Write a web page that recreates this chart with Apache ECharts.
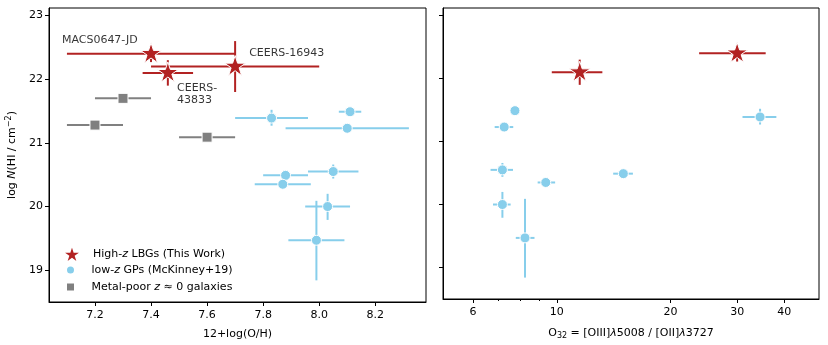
<!DOCTYPE html>
<html>
<head>
<meta charset="utf-8">
<script src="https://cdn.jsdelivr.net/npm/echarts@6/dist/echarts.min.js"></script>
<style>
    html, body { margin: 0; padding: 0; background: #fff; }
    #chart { width: 828px; height: 345px; }
</style>
</head>
<body>
<div id="chart"></div>
<script>
// high-z LBGs (this work)
const lbgNames = ['MACS0647-JD', 'CEERS-43833', 'CEERS-16943'];
const lbgOH = [7.40, 7.46, 7.70];
const lbgOHLo = [7.10, 7.37, 7.40];
const lbgOHHi = [7.70, 7.55, 8.00];
const lbgNHI = [22.40, 22.10, 22.20];
const lbgNHILo = [22.27, 21.90, 21.80];
const lbgNHIHi = [22.52, 22.30, 22.60];
const lbgO32 = [30.0, 11.5, null];
const lbgO32Lo = [23.8, 9.7, null];
const lbgO32Hi = [35.7, 13.2, null];

// low-z green peas (McKinney+19)
const gpOH = [7.83, 8.11, 8.10, 7.88, 8.05, 7.87, 8.03, 7.99];
const gpOHLo = [7.70, 8.07, 7.88, 7.80, 7.96, 7.77, 7.95, 7.89];
const gpOHHi = [7.96, 8.15, 8.32, 7.96, 8.14, 7.97, 8.11, 8.09];
const gpNHI = [21.39, 21.49, 21.23, 20.49, 20.55, 20.35, 20.00, 19.47];
const gpNHILo = [21.27, 21.44, 21.23, 20.49, 20.44, 20.35, 19.79, 18.84];
const gpNHIHi = [21.52, 21.54, 21.23, 20.49, 20.66, 20.35, 20.20, 20.09];
const gpO32 = [34.5, 7.75, 7.26, 15.0, 7.18, 9.35, 7.18, 8.24];
const gpO32Lo = [31.0, 7.75, 6.85, 14.1, 6.68, 8.90, 6.78, 7.79];
const gpO32Hi = [38.1, 7.75, 7.67, 15.9, 7.66, 9.90, 7.55, 8.73];

// metal-poor z~0 galaxies
const mpOH = [7.30, 7.20, 7.60];
const mpOHLo = [7.20, 7.10, 7.50];
const mpOHHi = [7.40, 7.30, 7.70];
const mpNHI = [21.70, 21.28, 21.09];
const mpNHILo = [21.64, 21.22, 21.03];
const mpNHIHi = [21.76, 21.34, 21.15];

// annotations (data coordinates, left panel)
const annoText = ['MACS0647-JD', 'CEERS-16943', 'CEERS-\n43833'];
const annoOH = [7.082, 7.75, 7.493];
const annoNHI = [22.61, 22.41, 21.76];

// ticks
const ohTicks = [7.2, 7.4, 7.6, 7.8, 8.0, 8.2];
const nhiTicks = [19, 20, 21, 22, 23];
const o32Ticks = [6, 10, 20, 30, 40];
const o32MinorTicks = [7, 8, 9];

const RED = '#b22222';
const BLUE = '#87ceeb';
const GRAY = '#808080';
const FONT = 'DejaVu Sans';
const STAR_BODY = 'M100,0L122.45,69.1L195.1,69.1L136.3,111.8L158.8,180.9L100,138.2L41.2,180.9L63.7,111.8L4.9,69.1L77.55,69.1Z';
// 五角星, 包围盒上下对称
const STAR = 'path://M100,200' + STAR_BODY;

function rows(x, y, xlo, xhi, ylo, yhi) {
    const out = [];
    x.forEach((v, i) => {
        if (v == null) return;
        out.push([v, y[i], xlo[i], xhi[i], ylo[i], yhi[i]]);
    });
    return out;
}

// 误差棒
function errorBars(color) {
    return function (params, api) {
        const l = api.coord([api.value(2), api.value(1)]);
        const r = api.coord([api.value(3), api.value(1)]);
        const b = api.coord([api.value(0), api.value(4)]);
        const t = api.coord([api.value(0), api.value(5)]);
        const style = { stroke: color, lineWidth: 2 };
        return {
            type: 'group',
            children: [
                { type: 'line', shape: { x1: l[0], y1: l[1], x2: r[0], y2: r[1] }, style },
                { type: 'line', shape: { x1: b[0], y1: b[1], x2: t[0], y2: t[1] }, style },
            ],
        };
    };
}

const lbgLeft = rows(lbgOH, lbgNHI, lbgOHLo, lbgOHHi, lbgNHILo, lbgNHIHi);
const gpLeft = rows(gpOH, gpNHI, gpOHLo, gpOHHi, gpNHILo, gpNHIHi);
const mpLeft = rows(mpOH, mpNHI, mpOHLo, mpOHHi, mpNHILo, mpNHIHi);
const lbgRight = rows(lbgO32, lbgNHI, lbgO32Lo, lbgO32Hi, lbgNHILo, lbgNHIHi);
const gpRight = rows(gpO32, gpNHI, gpO32Lo, gpO32Hi, gpNHILo, gpNHIHi);

const textBase = { fontFamily: FONT, fontSize: 11, color: '#000' };
const axisLine = { show: true, lineStyle: { color: '#000', width: 1 } };
const axisTick = { show: true, length: 4, lineStyle: { color: '#000', width: 1 } };

const legendText = {
    lbg: '{t|High-}{i|z}{t| LBGs (This Work)}',
    gp: '{t|low-}{i|z}{t| GPs (McKinney+19)}',
    mp: '{t|Metal-poor }{i|z}{t| ≈ 0 galaxies}',
};
const legendItems = [
    { name: 'lbg', icon: 'path://' + STAR_BODY },
    { name: 'gp', icon: 'path://M0,0M17,17M4,8.5A4.5,4.5,0,1,1,13,8.5A4.5,4.5,0,1,1,4,8.5Z' },
    { name: 'mp', icon: 'path://M0,0M17,17M4,4L13,4L13,13L4,13Z' },
];
const legendTops = [243.5, 260.5, 277.5];
const legendIconH = [19, 17, 17];

const myChart = echarts.init(document.getElementById('chart'), null, { renderer: 'canvas' });

const option = {
    animation: false,
    backgroundColor: '#fff',
    textStyle: { fontFamily: FONT },
    grid: [
        { left: 49, top: 8, width: 377, height: 294, show: true, borderColor: '#000', borderWidth: 1 },
        { left: 443, top: 8, width: 376, height: 294, show: true, borderColor: '#000', borderWidth: 1 },
    ],
    // 每个图例单独放置, 行距与原图一致
    legend: legendItems.map((item, i) => ({
        orient: 'vertical',
        left: 61,
        top: legendTops[i],
        padding: 0,
        itemWidth: 32,
        itemHeight: legendIconH[i],
        data: [item],
        formatter: name => legendText[name],
        textStyle: {
            rich: {
                t: { fontFamily: FONT, fontSize: 11, color: '#000' },
                i: { fontFamily: FONT, fontSize: 11, fontStyle: 'italic', color: '#000' },
            },
        },
    })),
    xAxis: [
        {
            gridIndex: 0,
            type: 'value',
            min: 7.036,
            max: 8.381,
            name: '12+log(O/H)',
            nameLocation: 'middle',
            nameGap: 27,
            nameTextStyle: textBase,
            axisLine,
            axisTick: Object.assign({}, axisTick, { customValues: ohTicks }),
            axisLabel: Object.assign({}, textBase, {
                margin: 8,
                customValues: ohTicks,
                formatter: v => v.toFixed(1),
            }),
            splitLine: { show: false },
        },
        {
            gridIndex: 1,
            type: 'log',
            logBase: 10,
            position: 'bottom',
            min: 5,
            max: 49.4,
            name: '{t|O}{sub|32}{t| = [OIII]}{i|λ}{t|5008 / [OII]}{i|λ}{t|3727}',
            nameLocation: 'middle',
            nameGap: 27,
            nameTextStyle: {
                rich: {
                    t: textBase,
                    i: Object.assign({}, textBase, { fontStyle: 'italic' }),
                    sub: Object.assign({}, textBase, { fontSize: 8, padding: [6, 0, 0, 0] }),
                },
            },
            axisLine,
            axisTick: Object.assign({}, axisTick, { customValues: o32Ticks }),
            axisLabel: Object.assign({}, textBase, {
                margin: 8,
                customValues: o32Ticks,
                formatter: v => String(Math.round(v)),
            }),
            minorTick: { show: false },
            splitLine: { show: false },
        },
        {
            gridIndex: 1,
            type: 'log',
            logBase: 10,
            position: 'bottom',
            offset: 0,
            min: 5,
            max: 49.4,
            axisLine: { show: false },
            axisTick: Object.assign({}, axisTick, { length: 2, customValues: o32MinorTicks }),
            axisLabel: { show: false },
            splitLine: { show: false },
        },
    ],
    yAxis: [
        {
            gridIndex: 0,
            type: 'value',
            min: 18.5,
            max: 23.12,
            name: '{t|log }{i|N}{t|(HI / cm}{s|−2}{t|)}',
            nameLocation: 'middle',
            nameGap: 30,
            nameTextStyle: {
                rich: {
                    t: textBase,
                    i: Object.assign({}, textBase, { fontStyle: 'italic' }),
                    s: Object.assign({}, textBase, { fontSize: 8, padding: [0, 0, 6, 0] }),
                },
            },
            axisLine,
            axisTick: Object.assign({}, axisTick, { customValues: nhiTicks }),
            axisLabel: Object.assign({}, textBase, { margin: 6, customValues: nhiTicks }),
            splitLine: { show: false },
        },
        {
            gridIndex: 1,
            type: 'value',
            min: 18.5,
            max: 23.12,
            axisLine,
            axisTick: Object.assign({}, axisTick, { customValues: nhiTicks }),
            axisLabel: { show: false },
            splitLine: { show: false },
        },
    ],
    series: [
        { name: 'err-mp', type: 'custom', xAxisIndex: 0, yAxisIndex: 0, z: 1, renderItem: errorBars(GRAY), data: mpLeft },
        { name: 'err-gp', type: 'custom', xAxisIndex: 0, yAxisIndex: 0, z: 1, renderItem: errorBars(BLUE), data: gpLeft },
        { name: 'err-lbg', type: 'custom', xAxisIndex: 0, yAxisIndex: 0, z: 1, renderItem: errorBars(RED), data: lbgLeft },
        { name: 'err-gp-r', type: 'custom', xAxisIndex: 1, yAxisIndex: 1, z: 1, renderItem: errorBars(BLUE), data: gpRight },
        { name: 'err-lbg-r', type: 'custom', xAxisIndex: 1, yAxisIndex: 1, z: 1, renderItem: errorBars(RED), data: lbgRight },
        {
            name: 'mp', type: 'scatter', xAxisIndex: 0, yAxisIndex: 0, z: 3,
            symbol: 'rect', symbolSize: 10,
            itemStyle: { color: GRAY, opacity: 1, borderColor: '#fff', borderWidth: 1 },
            data: mpLeft.map(d => [d[0], d[1]]),
        },
        {
            name: 'gp', type: 'scatter', xAxisIndex: 0, yAxisIndex: 0, z: 3,
            symbol: 'circle', symbolSize: 10,
            itemStyle: { color: BLUE, opacity: 1, borderColor: '#fff', borderWidth: 1 },
            data: gpLeft.map(d => [d[0], d[1]]),
        },
        {
            name: 'lbg', type: 'scatter', xAxisIndex: 0, yAxisIndex: 0, z: 4,
            symbol: STAR, symbolKeepAspect: true, symbolSize: 22,
            itemStyle: { color: RED, opacity: 1, borderColor: '#fff', borderWidth: 1 },
            data: lbgLeft.map(d => [d[0], d[1]]),
        },
        {
            name: 'gp', type: 'scatter', xAxisIndex: 1, yAxisIndex: 1, z: 3,
            symbol: 'circle', symbolSize: 10,
            itemStyle: { color: BLUE, opacity: 1, borderColor: '#fff', borderWidth: 1 },
            data: gpRight.map(d => [d[0], d[1]]),
        },
        {
            name: 'lbg', type: 'scatter', xAxisIndex: 1, yAxisIndex: 1, z: 4,
            symbol: STAR, symbolKeepAspect: true, symbolSize: 22,
            itemStyle: { color: RED, opacity: 1, borderColor: '#fff', borderWidth: 1 },
            data: lbgRight.map(d => [d[0], d[1]]),
        },
        {
            name: 'anno', type: 'scatter', xAxisIndex: 0, yAxisIndex: 0, z: 5,
            symbolSize: 0, silent: true,
            label: {
                show: true,
                position: [0, 0],
                align: 'left',
                verticalAlign: 'middle',
                fontFamily: FONT,
                fontSize: 11,
                lineHeight: 12,
                color: '#000',
                formatter: p => annoText[p.dataIndex],
            },
            data: annoOH.map((v, i) => [v, annoNHI[i]]),
        },
    ],
};

myChart.setOption(option);
</script>
</body>
</html>
